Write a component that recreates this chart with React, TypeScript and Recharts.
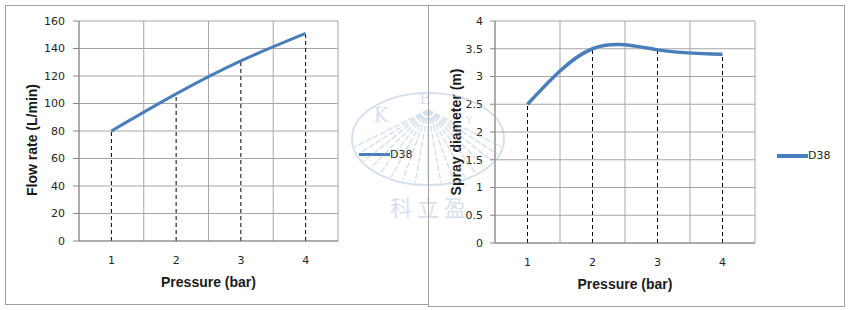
import { LineChart, Line, XAxis, YAxis, CartesianGrid, Legend, ReferenceLine } from 'recharts';

const pressure = [1, 2, 3, 4];
const flowRate = [80, 107, 131, 151];
const sprayDiameter = [2.5, 3.5, 3.48, 3.4];
const flowTicks = [0, 20, 40, 60, 80, 100, 120, 140, 160];
const sprayTicks = [0, 0.5, 1, 1.5, 2, 2.5, 3, 3.5, 4];
const bandEdges = [0.5, 1.5, 2.5, 3.5, 4.5];
const seriesName = 'D38';

const BLUE = '#4a7ebb';
const GRID = '#a6a6a6';
const TICK_FONT = { fontFamily: 'DejaVu Sans', fontSize: 11, fill: '#262626' };
const TITLE_FONT = 'Liberation Sans, Arial, sans-serif';

const flowData = pressure.map((p, i) => ({ pressure: p, flow: flowRate[i] }));
const sprayData = pressure.map((p, i) => ({ pressure: p, spray: sprayDiameter[i] }));

// rotated y title, centred on the axis with an optional nudge
const YTitle = (props: any) => {
  const { viewBox, value, x0, shift } = props;
  const cy = viewBox.y + viewBox.height / 2 + (shift || 0);
  return (
    <text
      x={x0}
      y={cy}
      transform={`rotate(-90 ${x0} ${cy})`}
      textAnchor="middle"
      dominantBaseline="central"
      style={{ fontFamily: TITLE_FONT, fontSize: 14, fontWeight: 'bold', fill: '#1a1a1a' }}
    >
      {value}
    </text>
  );
};

const LegendItem = (props: any) => {
  const { payload, thickness } = props;
  const item = payload && payload[0];
  if (!item) return null;
  return (
    <div style={{ display: 'flex', alignItems: 'center', fontFamily: 'DejaVu Sans', fontSize: 11, color: '#262626' }}>
      <span style={{ display: 'inline-block', width: 31, height: thickness, background: item.color }} />
      <span>{item.value}</span>
    </div>
  );
};

const xTitle = (value: string) => ({
  value,
  position: 'insideBottom' as const,
  offset: 4,
  style: { fontFamily: TITLE_FONT, fontSize: 14, fontWeight: 'bold', fill: '#1a1a1a' },
});

const Watermark = () => {
  const rays = [];
  for (let i = 0; i <= 16; i++) {
    const t = (Math.PI * (10 + i * 10)) / 180;
    rays.push(
      <line key={i} x1={428} y1={110} x2={428 + 74 * Math.cos(t)} y2={139 + 44 * Math.sin(t)} stroke="#9fb3cf" strokeWidth={1.5} strokeDasharray="6 2" />
    );
  }
  return (
    <svg width={850} height={310} style={{ position: 'absolute', left: 0, top: 0, pointerEvents: 'none', opacity: 0.4 }}>
      <ellipse cx={428} cy={139} rx={76} ry={46} fill="none" stroke="#9fb3cf" strokeWidth={2} />
      {rays}
      <text x={381} y={122} fontSize={20} fill="#9fb3cf" textAnchor="middle" fontFamily="DejaVu Serif">K</text>
      <text x={425} y={104} fontSize={16} fill="#9fb3cf" textAnchor="middle" fontFamily="DejaVu Serif">E</text>
      <text x={469} y={124} fontSize={11} fill="#9fb3cf" textAnchor="middle" fontFamily="DejaVu Serif">Y</text>
      <text x={428} y={216} fontSize={22} fill="#9fb3cf" textAnchor="middle" fontFamily="Noto Sans CJK SC">科 立 盈</text>
    </svg>
  );
};

export default function App() {
  return (
    <div style={{ position: 'absolute', left: 0, top: 0, width: 850, height: 310, background: '#fff' }}>
      <div style={{ position: 'absolute', left: 5, top: 5, width: 423, height: 300, border: '1px solid #a0a0a0', borderRight: 'none', boxSizing: 'border-box' }} />
      <div style={{ position: 'absolute', left: 428, top: 5, width: 417, height: 302, border: '1px solid #a0a0a0', boxSizing: 'border-box' }} />

      <div style={{ position: 'absolute', left: 5, top: 5 }}>
        <LineChart width={423} height={300} data={flowData} margin={{ top: 16, right: 90, bottom: 14, left: 0 }}>
          <CartesianGrid stroke={GRID} verticalValues={bandEdges} />
          <XAxis
            type="number"
            dataKey="pressure"
            domain={[0.5, 4.5]}
            ticks={pressure}
            interval={0}
            height={50}
            stroke="#868686"
            tickLine={false}
            tickSize={6}
            tickMargin={9}
            tick={TICK_FONT}
            label={xTitle('Pressure (bar)')}
          />
          <YAxis
            domain={[0, 160]}
            ticks={flowTicks}
            interval={0}
            width={74}
            stroke="#868686"
            tickSize={6}
            tickMargin={8}
            tick={TICK_FONT}
            label={<YTitle value="Flow rate (L/min)" x0={27} shift={9} />}
          />
          {pressure.map((p, i) => (
            <ReferenceLine key={p} segment={[{ x: p, y: 0 }, { x: p, y: flowRate[i] }]} stroke="#000" strokeDasharray="4 3" />
          ))}
          <Line type="natural" dataKey="flow" name={seriesName} stroke={BLUE} strokeWidth={3} dot={false} isAnimationActive={false} />
          <Legend
            layout="horizontal"
            align="center"
            verticalAlign="middle"
            wrapperStyle={{ left: 354, top: 143 }}
            content={<LegendItem thickness={3} />}
          />
        </LineChart>
      </div>

      <div style={{ position: 'absolute', left: 428, top: 5 }}>
        <LineChart width={416} height={302} data={sprayData} margin={{ top: 16, right: 89, bottom: 14, left: 0 }}>
          <CartesianGrid stroke={GRID} verticalValues={bandEdges} />
          <XAxis
            type="number"
            dataKey="pressure"
            domain={[0.5, 4.5]}
            ticks={pressure}
            interval={0}
            height={50}
            stroke="#868686"
            tickLine={false}
            tickSize={6}
            tickMargin={9}
            tick={TICK_FONT}
            label={xTitle('Pressure (bar)')}
          />
          <YAxis
            domain={[0, 4]}
            ticks={sprayTicks}
            interval={0}
            width={67}
            stroke="#868686"
            tickSize={5}
            tickMargin={7}
            tick={TICK_FONT}
            label={<YTitle value="Spray diameter (m)" x0={28} shift={0} />}
          />
          {pressure.map((p, i) => (
            <ReferenceLine key={p} segment={[{ x: p, y: 0 }, { x: p, y: sprayDiameter[i] }]} stroke="#000" strokeDasharray="4 3" />
          ))}
          <Line type="natural" dataKey="spray" name={seriesName} stroke={BLUE} strokeWidth={3.5} dot={false} isAnimationActive={false} />
          <Legend
            layout="horizontal"
            align="center"
            verticalAlign="middle"
            wrapperStyle={{ left: 349, top: 144 }}
            content={<LegendItem thickness={4} />}
          />
        </LineChart>
      </div>

      <Watermark />
    </div>
  );
}
